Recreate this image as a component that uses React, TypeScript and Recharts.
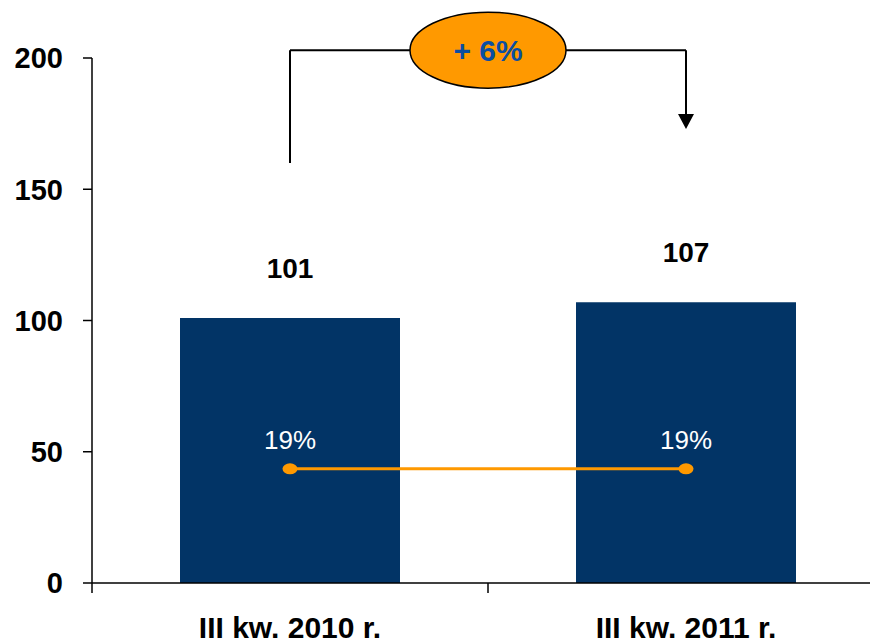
import React from 'react';
import { ComposedChart, Bar, Line, XAxis, YAxis, LabelList, ReferenceLine } from 'recharts';

const categories = ['III kw. 2010 r.', 'III kw. 2011 r.'];
const values = [101, 107];
const lineLevel = [43.5, 43.5];
const shareLabels = ['19%', '19%'];
const yTicks = [0, 50, 100, 150, 200];
const changeLabel = '+ 6%';
const bracketTop = 203;
const bracketLeftBottom = 160;
const bracketRightBottom = 173;

const data = categories.map((c, i) => ({
  name: c,
  value: values[i],
  level: lineLevel[i],
  share: shareLabels[i],
}));

const ORANGE = '#FF9900';
const NAVY = '#023466';
const BLUE = '#0B4EA2';

const XTick = (props: any) => {
  const { x, y, payload, index, visibleTicksCount } = props;
  const off = typeof payload.offset === 'number' && payload.offset > 0 ? payload.offset : 198;
  return (
    <g>
      <line x1={x - off} y1={y} x2={x - off} y2={y + 10} stroke="#000" strokeWidth={1.5} />
      {index === visibleTicksCount - 1 && (
        <line x1={x + off} y1={y} x2={x + off} y2={y + 10} stroke="#000" strokeWidth={1.5} />
      )}
      <text x={x} y={y + 55} textAnchor="middle" fontSize={30} fontWeight="bold" fill="#000">
        {payload.value}
      </text>
    </g>
  );
};

const TopBracket = (p: any) => {
  const { x1, y1, x2 } = p;
  const cx = (x1 + x2) / 2;
  return (
    <g>
      <line x1={x1} y1={y1} x2={x2} y2={y1} stroke="#000" strokeWidth={2} />
      <ellipse cx={cx} cy={y1} rx={78} ry={38} fill={ORANGE} stroke="#000" strokeWidth={1.5} />
      <text x={cx} y={y1} dy="0.36em" textAnchor="middle" fill={BLUE} fontSize={30} fontWeight="bold">
        {changeLabel}
      </text>
    </g>
  );
};

const PlainLine = (p: any) => {
  const { x1, y1, x2, y2 } = p;
  return <line x1={x1} y1={y1} x2={x2} y2={y2} stroke="#000" strokeWidth={2} />;
};

const ArrowLine = (p: any) => {
  const { x1, y1, x2, y2 } = p;
  return (
    <g>
      <line x1={x1} y1={y1} x2={x2} y2={y2 - 12} stroke="#000" strokeWidth={2} />
      <polygon points={`${x2},${y2} ${x2 - 8},${y2 - 15} ${x2 + 8},${y2 - 15}`} fill="#000" />
    </g>
  );
};

const EllipseDot = (p: any) => {
  const { cx, cy } = p;
  return <ellipse cx={cx} cy={cy} rx={7.5} ry={5.5} fill={ORANGE} />;
};

export default function App() {
  return (
    <div
      style={{
        position: 'absolute',
        left: 0,
        top: 0,
        width: 870,
        height: 643,
        overflow: 'hidden',
        background: '#fff',
        fontFamily: 'Arial, "Liberation Sans", sans-serif',
      }}
    >
      <ComposedChart width={900} height={643} data={data} margin={{ top: 58, right: 16, left: 0, bottom: 0 }}>
        <XAxis
          dataKey="name"
          height={60}
          tickSize={0}
          tickMargin={0}
          tickLine={false}
          axisLine={{ stroke: '#000', strokeWidth: 1.5 }}
          tick={<XTick />}
          interval={0}
        />
        <YAxis
          width={92}
          domain={[0, 200]}
          ticks={yTicks}
          tickSize={9}
          tickMargin={20}
          axisLine={{ stroke: '#000', strokeWidth: 1.5 }}
          tickLine={{ stroke: '#000', strokeWidth: 1.5 }}
          tick={{ fill: '#000', fontSize: 29, fontWeight: 'bold' }}
          allowDataOverflow
        />
        <Bar dataKey="value" fill={NAVY} barSize={220} isAnimationActive={false}>
          <LabelList dataKey="value" position="top" offset={40} fill="#000" fontSize={28} fontWeight="bold" />
        </Bar>
        <Line
          dataKey="level"
          stroke={ORANGE}
          strokeWidth={3}
          dot={<EllipseDot />}
          activeDot={false}
          isAnimationActive={false}
        >
          <LabelList dataKey="share" position="top" offset={20} fill="#fff" fontSize={26} />
        </Line>
        <ReferenceLine
          ifOverflow="visible"
          segment={[
            { x: categories[0], y: bracketTop },
            { x: categories[0], y: bracketLeftBottom },
          ]}
          shape={<PlainLine />}
        />
        <ReferenceLine
          ifOverflow="visible"
          segment={[
            { x: categories[0], y: bracketTop },
            { x: categories[1], y: bracketTop },
          ]}
          shape={<TopBracket />}
        />
        <ReferenceLine
          ifOverflow="visible"
          segment={[
            { x: categories[1], y: bracketTop },
            { x: categories[1], y: bracketRightBottom },
          ]}
          shape={<ArrowLine />}
        />
      </ComposedChart>
    </div>
  );
}
